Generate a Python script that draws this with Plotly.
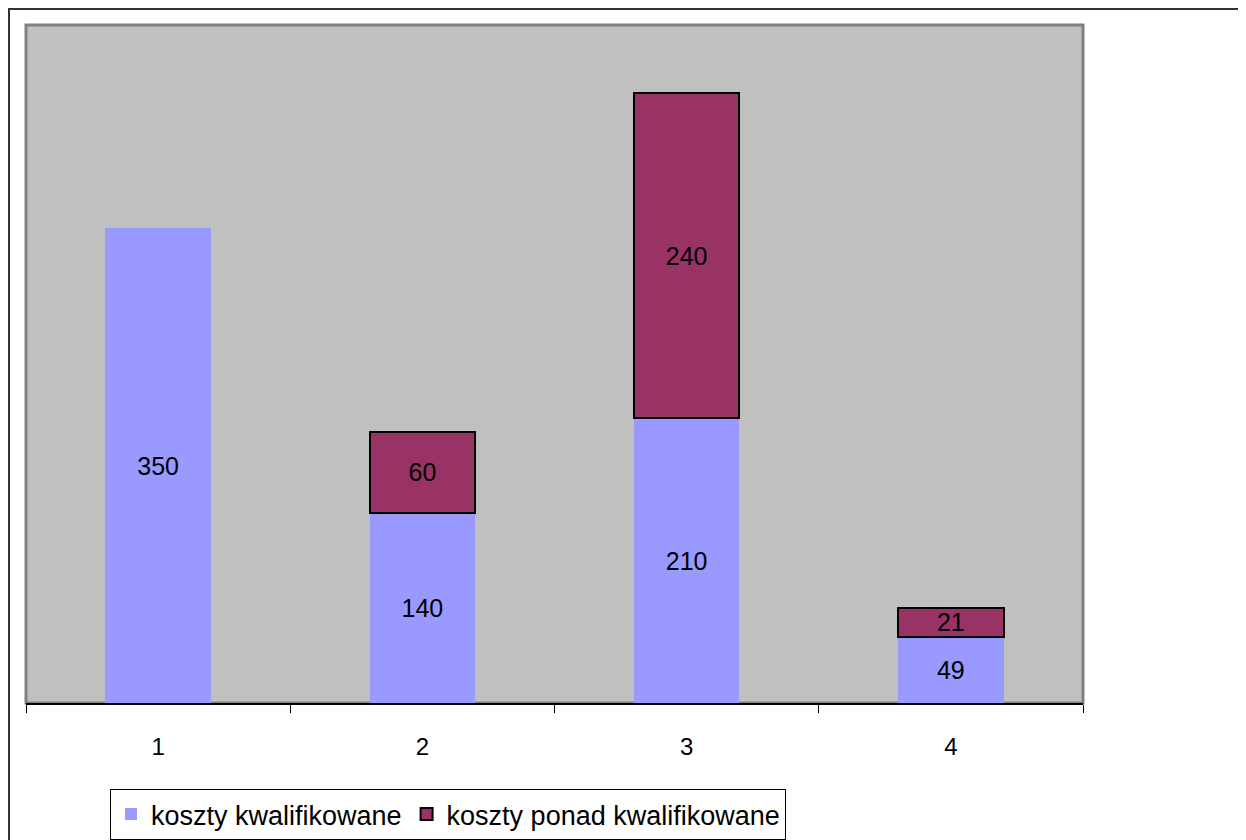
import plotly.graph_objects as go

categories = ["1", "2", "3", "4"]
kwalifikowane = [350, 140, 210, 49]
ponad = [None, 60, 240, 21]
series_names = ["koszty kwalifikowane", "koszty ponad kwalifikowane"]

OFF = 8  # default page body margin
W, H = 1238, 832
L, R, T, B = 26 - OFF, 1083 - OFF, 25 - OFF, 703 - OFF
pw, ph = R - L, B - T

FONT = "Liberation Sans, Arial"

fig = go.Figure()
fig.add_trace(go.Bar(
    x=categories, y=kwalifikowane, name=series_names[0],
    marker=dict(color="#9999FF", line=dict(width=0)),
    text=[str(v) for v in kwalifikowane], textposition="inside",
    insidetextanchor="middle", textangle=0, constraintext="none",
    textfont=dict(family=FONT, size=25, color="black"),
))
fig.add_trace(go.Bar(
    x=categories, y=ponad, name=series_names[1],
    marker=dict(color="#993366", line=dict(color="black", width=2)),
    text=[("" if v is None else str(v)) for v in ponad], textposition="inside",
    insidetextanchor="middle", textangle=0, constraintext="none",
    textfont=dict(family=FONT, size=25, color="black"),
))

fig.update_layout(
    width=W, height=H,
    margin=dict(l=L, r=W - R, t=T, b=H - B, pad=0),
    barmode="stack", bargap=0.6,
    paper_bgcolor="white", plot_bgcolor="#C0C0C0",
    font=dict(family=FONT, size=24, color="black"),
    showlegend=True,
    legend=dict(
        orientation="h", xref="container", yref="container",
        x=(110 - OFF) / W, y=1 - (789 - OFF) / H, xanchor="left", yanchor="top",
        bordercolor="black", borderwidth=1, bgcolor="white",
        font=dict(size=27, family=FONT),
        traceorder="normal", itemwidth=30,
    ),
    xaxis=dict(
        type="category", showline=True, linecolor="black", linewidth=2,
        ticks="outside", tickson="boundaries", ticklen=8, tickcolor="black",
        tickwidth=1, showgrid=False, zeroline=False,
        tickfont=dict(size=24), ticklabelstandoff=21,
    ),
    yaxis=dict(range=[0, 500], visible=False, showgrid=False),
    shapes=[
        dict(type="rect", xref="paper", yref="paper", x0=0, x1=1, y0=0, y1=1,
             line=dict(color="#808080", width=3), fillcolor="rgba(0,0,0,0)", layer="below"),
        dict(type="rect", xref="paper", yref="paper",
             x0=-(L - 1) / pw, x1=(W + 20 - L) / pw, y0=-(H + 20 - B) / ph, y1=(B - 1) / ph,
             line=dict(color="#333333", width=2), fillcolor="rgba(0,0,0,0)", layer="below"),
    ],
)

fig.write_html("out.html")
